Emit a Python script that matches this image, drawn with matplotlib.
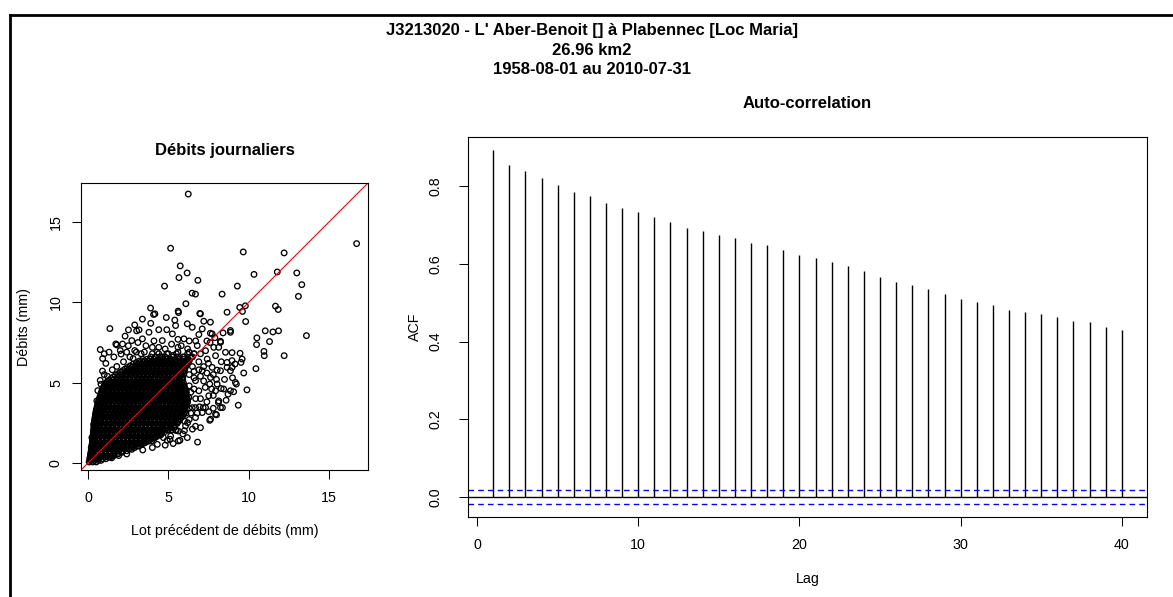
import matplotlib.pyplot as plt
from matplotlib.lines import Line2D

plt.rcParams['font.family'] = ['Liberation Sans', 'DejaVu Sans']

# --- titles ---
main_title = ["J3213020 - L' Aber-Benoit [] à Plabennec [Loc Maria]",
              "26.96 km2",
              "1958-08-01 au 2010-07-31"]

# --- scatter: lagged daily flows (mm) ---
# dense core, one row per debit level: (y, [x values])
core_rows = [
    (0.05, [0.06, 0.28, 0.5]),
    (0.15, [0.1, 0.2, 0.4, 0.62, 0.8]),
    (0.25, [0.1, 0.36, 0.62, 0.88, 1.1]),
    (0.35, [0.12, 0.24, 0.48, 0.74, 1.0, 1.25, 1.38]),
    (0.45, [0.14, 0.4, 0.66, 0.92, 1.18, 1.44, 1.6]),
    (0.55, [0.15, 0.28, 0.54, 0.8, 1.06, 1.32, 1.58, 1.85]),
    (0.65, [0.17, 0.3, 0.56, 0.82, 1.08, 1.34, 1.6, 1.86, 2.1]),
    (0.75, [0.19, 0.32, 0.58, 0.84, 1.1, 1.36, 1.62, 1.88, 2.14, 2.4]),
    (0.85, [0.2, 0.44, 0.7, 0.96, 1.22, 1.48, 1.74, 2.0, 2.26, 2.55]),
    (0.95, [0.21, 0.36, 0.62, 0.88, 1.14, 1.4, 1.66, 1.92, 2.18, 2.44, 2.7, 2.9]),
    (1.05, [0.23, 0.34, 0.6, 0.86, 1.12, 1.38, 1.64, 1.9, 2.16, 2.42, 2.68, 2.94, 3.1]),
    (1.15, [0.24, 0.4, 0.64, 0.9, 1.16, 1.42, 1.68, 1.94, 2.2, 2.46, 2.72, 2.98, 3.24, 3.35]),
    (1.25, [0.26, 0.48, 0.74, 1.0, 1.26, 1.52, 1.78, 2.04, 2.3, 2.56, 2.82, 3.08, 3.34, 3.5]),
    (1.35, [0.27, 0.4, 0.64, 0.9, 1.16, 1.42, 1.68, 1.94, 2.2, 2.46, 2.72, 2.98, 3.24, 3.5, 3.72]),
    (1.45, [0.28, 0.38, 0.62, 0.88, 1.14, 1.4, 1.66, 1.92, 2.18, 2.44, 2.7, 2.96, 3.22, 3.48, 3.74, 3.9]),
    (1.55, [0.29, 0.45, 0.68, 0.94, 1.2, 1.46, 1.72, 1.98, 2.24, 2.5, 2.76, 3.02, 3.28, 3.54, 3.8, 4.06, 4.15]),
    (1.65, [0.3, 0.52, 0.78, 1.04, 1.3, 1.56, 1.82, 2.08, 2.34, 2.6, 2.86, 3.12, 3.38, 3.64, 3.9, 4.16, 4.3]),
    (1.75, [0.31, 0.44, 0.66, 0.92, 1.18, 1.44, 1.7, 1.96, 2.22, 2.48, 2.74, 3.0, 3.26, 3.52, 3.78, 4.04, 4.3, 4.45]),
    (1.85, [0.32, 0.42, 0.66, 0.92, 1.18, 1.44, 1.7, 1.96, 2.22, 2.48, 2.74, 3.0, 3.26, 3.52, 3.78, 4.04, 4.3, 4.55]),
    (1.95, [0.33, 0.48, 0.7, 0.96, 1.22, 1.48, 1.74, 2.0, 2.26, 2.52, 2.78, 3.04, 3.3, 3.56, 3.82, 4.08, 4.34, 4.6, 4.78]),
    (2.05, [0.34, 0.56, 0.82, 1.08, 1.34, 1.6, 1.86, 2.12, 2.38, 2.64, 2.9, 3.16, 3.42, 3.68, 3.94, 4.2, 4.46, 4.72, 4.98, 5.2]),
    (2.15, [0.35, 0.5, 0.72, 0.98, 1.24, 1.5, 1.76, 2.02, 2.28, 2.54, 2.8, 3.06, 3.32, 3.58, 3.84, 4.1, 4.36, 4.62, 4.88, 5.1]),
    (2.25, [0.36, 0.46, 0.7, 0.96, 1.22, 1.48, 1.74, 2.0, 2.26, 2.52, 2.78, 3.04, 3.3, 3.56, 3.82, 4.08, 4.34, 4.6, 4.86, 5.12, 5.38]),
    (2.35, [0.37, 0.52, 0.74, 1.0, 1.26, 1.52, 1.78, 2.04, 2.3, 2.56, 2.82, 3.08, 3.34, 3.6, 3.86, 4.12, 4.38, 4.64, 4.9, 5.16, 5.4]),
    (2.45, [0.38, 0.6, 0.86, 1.12, 1.38, 1.64, 1.9, 2.16, 2.42, 2.68, 2.94, 3.2, 3.46, 3.72, 3.98, 4.24, 4.5, 4.76, 5.02, 5.28, 5.54]),
    (2.55, [0.39, 0.54, 0.76, 1.02, 1.28, 1.54, 1.8, 2.06, 2.32, 2.58, 2.84, 3.1, 3.36, 3.62, 3.88, 4.14, 4.4, 4.66, 4.92, 5.18, 5.44, 5.6]),
    (2.65, [0.4, 0.5, 0.74, 1.0, 1.26, 1.52, 1.78, 2.04, 2.3, 2.56, 2.82, 3.08, 3.34, 3.6, 3.86, 4.12, 4.38, 4.64, 4.9, 5.16, 5.42, 5.7]),
    (2.75, [0.42, 0.58, 0.8, 1.06, 1.32, 1.58, 1.84, 2.1, 2.36, 2.62, 2.88, 3.14, 3.4, 3.66, 3.92, 4.18, 4.44, 4.7, 4.96, 5.22, 5.48, 5.74]),
    (2.85, [0.43, 0.64, 0.9, 1.16, 1.42, 1.68, 1.94, 2.2, 2.46, 2.72, 2.98, 3.24, 3.5, 3.76, 4.02, 4.28, 4.54, 4.8, 5.06, 5.32, 5.58, 5.84]),
    (2.95, [0.45, 0.62, 0.84, 1.1, 1.36, 1.62, 1.88, 2.14, 2.4, 2.66, 2.92, 3.18, 3.44, 3.7, 3.96, 4.22, 4.48, 4.74, 5.0, 5.26, 5.52, 5.78, 5.9]),
    (3.05, [0.46, 0.56, 0.78, 1.04, 1.3, 1.56, 1.82, 2.08, 2.34, 2.6, 2.86, 3.12, 3.38, 3.64, 3.9, 4.16, 4.42, 4.68, 4.94, 5.2, 5.46, 5.72, 5.95]),
    (3.15, [0.48, 0.64, 0.86, 1.12, 1.38, 1.64, 1.9, 2.16, 2.42, 2.68, 2.94, 3.2, 3.46, 3.72, 3.98, 4.24, 4.5, 4.76, 5.02, 5.28, 5.54, 5.8, 6.0]),
    (3.25, [0.5, 0.7, 0.96, 1.22, 1.48, 1.74, 2.0, 2.26, 2.52, 2.78, 3.04, 3.3, 3.56, 3.82, 4.08, 4.34, 4.6, 4.86, 5.12, 5.38, 5.64, 5.9]),
    (3.35, [0.52, 0.7, 0.92, 1.18, 1.44, 1.7, 1.96, 2.22, 2.48, 2.74, 3.0, 3.26, 3.52, 3.78, 4.04, 4.3, 4.56, 4.82, 5.08, 5.34, 5.6, 5.86, 6.05]),
    (3.45, [0.55, 0.84, 1.1, 1.36, 1.62, 1.88, 2.14, 2.4, 2.66, 2.92, 3.18, 3.44, 3.7, 3.96, 4.22, 4.48, 4.74, 5.0, 5.26, 5.52, 5.78, 6.02]),
    (3.55, [0.57, 0.72, 0.96, 1.22, 1.48, 1.74, 2.0, 2.26, 2.52, 2.78, 3.04, 3.3, 3.56, 3.82, 4.08, 4.34, 4.6, 4.86, 5.12, 5.38, 5.64, 5.9, 6.1]),
    (3.65, [0.6, 0.74, 0.98, 1.24, 1.5, 1.76, 2.02, 2.28, 2.54, 2.8, 3.06, 3.32, 3.58, 3.84, 4.1, 4.36, 4.62, 4.88, 5.14, 5.4, 5.66, 5.92, 6.1]),
    (3.75, [0.62, 0.8, 1.04, 1.3, 1.56, 1.82, 2.08, 2.34, 2.6, 2.86, 3.12, 3.38, 3.64, 3.9, 4.16, 4.42, 4.68, 4.94, 5.2, 5.46, 5.72, 5.98, 6.15]),
    (3.85, [0.65, 0.88, 1.12, 1.38, 1.64, 1.9, 2.16, 2.42, 2.68, 2.94, 3.2, 3.46, 3.72, 3.98, 4.24, 4.5, 4.76, 5.02, 5.28, 5.54, 5.8, 6.06]),
    (3.95, [0.68, 0.86, 1.1, 1.36, 1.62, 1.88, 2.14, 2.4, 2.66, 2.92, 3.18, 3.44, 3.7, 3.96, 4.22, 4.48, 4.74, 5.0, 5.26, 5.52, 5.78, 6.04, 6.2]),
    (4.05, [0.72, 1.0, 1.26, 1.52, 1.78, 2.04, 2.3, 2.56, 2.82, 3.08, 3.34, 3.6, 3.86, 4.12, 4.38, 4.64, 4.9, 5.16, 5.42, 5.68, 5.94, 6.15]),
    (4.15, [0.75, 0.92, 1.18, 1.44, 1.7, 1.96, 2.22, 2.48, 2.74, 3.0, 3.26, 3.52, 3.78, 4.04, 4.3, 4.56, 4.82, 5.08, 5.34, 5.6, 5.86, 6.1]),
    (4.25, [0.78, 1.1, 1.36, 1.62, 1.88, 2.14, 2.4, 2.66, 2.92, 3.18, 3.44, 3.7, 3.96, 4.22, 4.48, 4.74, 5.0, 5.26, 5.52, 5.78, 6.04]),
    (4.35, [0.81, 0.98, 1.24, 1.5, 1.76, 2.02, 2.28, 2.54, 2.8, 3.06, 3.32, 3.58, 3.84, 4.1, 4.36, 4.62, 4.88, 5.14, 5.4, 5.66, 5.92, 6.12]),
    (4.45, [0.84, 1.2, 1.46, 1.72, 1.98, 2.24, 2.5, 2.76, 3.02, 3.28, 3.54, 3.8, 4.06, 4.32, 4.58, 4.84, 5.1, 5.36, 5.62, 5.88, 6.1]),
    (4.55, [0.88, 1.02, 1.3, 1.56, 1.82, 2.08, 2.34, 2.6, 2.86, 3.12, 3.38, 3.64, 3.9, 4.16, 4.42, 4.68, 4.94, 5.2, 5.46, 5.72, 5.98, 6.08]),
    (4.65, [0.92, 1.1, 1.32, 1.58, 1.84, 2.1, 2.36, 2.62, 2.88, 3.14, 3.4, 3.66, 3.92, 4.18, 4.44, 4.7, 4.96, 5.22, 5.48, 5.74, 6.0]),
    (4.75, [0.98, 1.2, 1.44, 1.7, 1.96, 2.22, 2.48, 2.74, 3.0, 3.26, 3.52, 3.78, 4.04, 4.3, 4.56, 4.82, 5.08, 5.34, 5.6, 5.86, 6.0]),
    (4.85, [1.02, 1.25, 1.48, 1.74, 2.0, 2.26, 2.52, 2.78, 3.04, 3.3, 3.56, 3.82, 4.08, 4.34, 4.6, 4.86, 5.12, 5.38, 5.64, 5.9]),
    (4.95, [1.1, 1.34, 1.6, 1.86, 2.12, 2.38, 2.64, 2.9, 3.16, 3.42, 3.68, 3.94, 4.2, 4.46, 4.72, 4.98, 5.24, 5.5, 5.76, 5.95]),
    (5.05, [1.18, 1.4, 1.64, 1.9, 2.16, 2.42, 2.68, 2.94, 3.2, 3.46, 3.72, 3.98, 4.24, 4.5, 4.76, 5.02, 5.28, 5.54, 5.8]),
    (5.15, [1.3, 1.54, 1.78, 2.04, 2.3, 2.56, 2.82, 3.08, 3.34, 3.6, 3.86, 4.12, 4.38, 4.64, 4.9, 5.16, 5.42, 5.68, 5.9]),
    (5.25, [1.42, 1.75, 2.02, 2.28, 2.54, 2.8, 3.06, 3.32, 3.58, 3.84, 4.1, 4.36, 4.62, 4.88, 5.14, 5.4, 5.66, 5.85]),
    (5.35, [1.56, 1.84, 2.1, 2.36, 2.62, 2.88, 3.14, 3.4, 3.66, 3.92, 4.18, 4.44, 4.7, 4.96, 5.22, 5.48, 5.74, 5.9]),
    (5.45, [1.7, 1.95, 2.18, 2.44, 2.7, 2.96, 3.22, 3.48, 3.74, 4.0, 4.26, 4.52, 4.78, 5.04, 5.3, 5.56, 5.8]),
    (5.55, [1.85, 2.1, 2.36, 2.62, 2.88, 3.14, 3.4, 3.66, 3.92, 4.18, 4.44, 4.7, 4.96, 5.22, 5.48, 5.74, 5.95]),
    (5.65, [2.0, 2.3, 2.56, 2.82, 3.08, 3.34, 3.6, 3.86, 4.12, 4.38, 4.64, 4.9, 5.16, 5.42, 5.68, 5.9]),
    (5.75, [2.15, 2.44, 2.7, 2.96, 3.22, 3.48, 3.74, 4.0, 4.26, 4.52, 4.78, 5.04, 5.3, 5.56, 5.82, 6.0]),
    (5.85, [2.3, 2.55, 2.78, 2.98, 3.24, 3.5, 3.76, 4.02, 4.28, 4.54, 4.8, 5.06, 5.32, 5.58, 5.84, 6.0]),
    (5.95, [2.45, 2.72, 2.98, 3.24, 3.5, 3.76, 4.02, 4.28, 4.54, 4.8, 5.06, 5.32, 5.58, 5.84, 6.05]),
    (6.05, [2.62, 2.95, 3.2, 3.46, 3.72, 3.98, 4.24, 4.5, 4.76, 5.02, 5.28, 5.54, 5.8, 6.08]),
    (6.15, [2.8, 3.08, 3.34, 3.6, 3.86, 4.12, 4.38, 4.64, 4.9, 5.16, 5.42, 5.68, 5.94, 6.15]),
    (6.25, [3.0, 3.22, 3.44, 3.66, 3.92, 4.18, 4.44, 4.7, 4.96, 5.22, 5.48, 5.74, 6.0, 6.2]),
    (6.35, [3.2, 3.5, 3.76, 4.02, 4.28, 4.54, 4.8, 5.06, 5.32, 5.58, 5.84, 6.1, 6.3]),
    (6.45, [3.4, 3.65, 3.86, 4.12, 4.38, 4.64, 4.9, 5.16, 5.42, 5.68, 5.94, 6.25]),
    (6.6, [3.9, 4.2, 4.5, 4.8, 5.3, 5.6, 6.0, 6.4]),
    (6.8, [4.4, 4.9, 5.5, 6.2, 6.6]),
]

# scattered points around the core and isolated high flows: (x, y)
spread_pts = [
    (6.24, 16.76), (16.74, 13.67), (5.14, 13.38), (9.67, 13.15), (12.22, 13.09),
    (5.74, 12.28), (6.17, 11.84), (5.66, 11.55), (6.84, 11.38), (4.76, 11.02),
    (10.34, 11.75), (11.79, 11.9), (13.01, 11.84), (13.32, 11.11), (13.11, 10.38),
    (9.30, 11.02), (6.48, 10.58), (6.69, 10.52), (8.35, 10.52), (6.09, 9.92),
    (9.80, 9.79), (9.45, 9.69), (9.62, 9.44), (8.66, 9.39), (11.68, 9.77),
    (11.85, 9.56), (9.82, 8.81), (3.89, 9.65), (4.08, 9.25), (5.61, 9.46),
    (5.63, 9.37), (6.96, 9.31), (4.87, 9.06), (3.38, 8.96), (1.35, 8.37),
    (2.51, 8.29), (3.02, 8.23), (8.87, 8.25), (11.04, 8.23), (11.52, 8.16),
    (11.87, 8.23), (10.52, 7.79), (11.31, 7.56), (10.50, 7.37), (13.61, 7.93),
    (10.96, 6.95), (10.98, 6.68), (12.22, 6.68), (10.46, 5.87), (9.90, 4.55),
    (9.36, 3.59), (0.75, 7.06), (0.89, 5.72), (0.75, 5.14), (1.78, 7.35),
    (2.05, 6.78), (1.78, 6.01), (6.82, 1.29), (5.72, 1.40), (7.00, 2.19),
    (6.69, 2.28), (5.49, 2.03), (8.00, 2.99), (7.58, 2.65), (8.72, 4.28),
    (9.07, 4.43), (9.24, 4.91), (8.97, 6.87), (9.47, 6.83), (9.53, 6.26),
    (9.16, 6.16), (8.87, 5.74), (8.66, 5.95), (8.04, 5.78), (7.62, 8.08),
    (7.21, 8.83), (7.62, 8.77), (8.41, 8.10), (8.25, 7.58), (7.83, 7.20),
    (8.04, 4.91), (8.29, 4.63), (7.58, 4.91), (8.37, 3.44), (8.12, 3.76),
    (7.52, 3.19), (7.17, 3.44), (6.94, 3.49), (6.69, 3.44),
    (4.16, 9.29), (7.0, 9.29), (3.17, 8.29), (3.79, 8.14), (5.45, 8.56),
    (6.18, 8.67), (1.72, 7.41), (1.41, 5.01), (2.14, 7.41), (2.72, 7.62),
    (3.38, 7.73), (4.0, 7.2), (4.62, 7.62), (5.25, 8.04), (5.97, 7.73),
    (6.49, 8.45), (7.11, 8.35), (7.73, 8.04), (8.25, 7.51), (8.87, 8.14),
    (8.56, 6.89), (8.97, 6.37), (9.6, 6.47), (9.18, 5.01), (8.87, 4.49),
    (8.45, 4.6), (7.94, 4.49), (7.52, 4.18), (8.14, 3.86), (7.32, 3.44),
    (6.49, 3.44), (7.63, 2.72), (6.07, 2.3), (5.45, 2.03), (5.14, 1.67),
    (4.52, 1.73), (4.31, 1.15), (3.79, 1.36), (3.17, 1.05), (7.11, 5.74),
    (7.73, 5.95), (7.63, 5.32), (8.25, 5.74), (7.94, 6.68), (7.32, 6.99),
    (6.8, 7.31), (7.42, 6.47), (8.14, 7.2), (8.66, 6.26), (8.97, 5.95),
    (6.69, 5.12), (6.9, 4.49), (6.28, 4.07), (7.11, 3.13), (6.69, 2.82),
    (7.94, 3.03), (8.25, 3.44), (4.93, 1.4), (6.18, 1.57),
    (2.09, 0.73), (2.72, 0.84), (3.54, 1.25), (3.96, 1.36), (4.69, 1.57),
    (5.1, 1.47), (5.62, 1.36), (4.58, 2.09), (5.2, 2.4), (5.62, 1.98),
    (1.47, 0.31), (0.34, 2.4), (0.54, 3.86), (0.75, 4.18), (0.96, 4.7),
    (1.16, 4.91), (0.23, 1.57), (0.19, 0.94),
    (2.4, 6.9), (2.9, 7.0), (3.3, 6.8), (3.6, 7.3), (4.3, 6.9), (4.8, 7.1),
    (5.2, 7.4), (5.6, 6.9), (6.2, 7.1), (6.6, 6.8), (3.1, 7.5), (2.6, 6.6),
    (4.1, 7.6), (5.0, 6.8), (5.8, 7.3), (6.4, 6.6), (1.2, 5.4), (1.5, 5.8),
    (2.2, 6.3), (2.8, 6.5), (1.1, 6.2), (1.0, 5.5),
    (6.3, 5.5), (6.5, 6.0), (6.9, 6.3), (6.6, 4.6), (6.2, 3.8), (6.4, 3.1),
    (7.3, 4.7), (7.0, 5.4), (6.3, 2.7), (6.0, 2.0), (6.5, 6.6), (7.2, 6.0),
    (6.1, 6.2), (6.3, 6.9), (6.7, 7.6), (6.9, 5.8), (7.0, 6.8), (7.4, 5.6),
    (7.5, 6.2), (7.8, 5.5), (7.6, 7.5), (6.6, 5.3), (6.4, 4.4), (6.7, 4.0),
    (7.0, 4.0), (7.4, 3.8), (7.8, 4.2), (6.3, 3.4), (6.8, 3.1), (6.2, 2.5),
    (6.5, 2.1), (5.9, 1.8), (5.3, 1.2), (4.8, 1.1), (4.0, 0.95), (3.4, 0.8),
    (2.4, 0.55), (1.9, 0.45), (6.0, 2.6), (6.1, 3.1), (6.3, 4.8), (6.6, 5.7),
    (7.2, 5.1), (7.7, 4.6), (8.5, 5.2), (8.3, 6.3), (7.9, 7.8), (7.4, 7.6),
    (6.9, 8.0), (6.3, 7.6), (5.6, 7.7), (5.4, 8.9), (4.4, 8.3), (4.9, 8.3),
    (3.9, 8.7), (2.9, 8.6), (2.3, 7.9), (2.0, 7.0), (1.6, 6.6), (1.3, 6.9),
    (3.5, 6.9), (4.0, 6.8), (4.6, 6.6), (5.3, 6.7), (5.9, 6.6), (3.0, 6.9),
    (2.5, 7.3), (4.4, 7.2), (5.6, 7.2), (1.0, 6.8), (0.9, 6.5), (0.8, 4.9),
    (0.6, 4.5), (7.8, 3.4), (8.6, 3.9), (8.0, 5.2), (9.0, 5.3), (9.7, 5.6),
]

# --- autocorrelation of daily flows ---
lags = list(range(1, 41))
acf_vals = [0.892, 0.853, 0.838, 0.820, 0.802, 0.784, 0.774, 0.756, 0.744, 0.732,
            0.719, 0.707, 0.693, 0.683, 0.675, 0.666, 0.653, 0.647, 0.635, 0.623,
            0.614, 0.605, 0.593, 0.581, 0.565, 0.553, 0.545, 0.535, 0.523, 0.510,
            0.502, 0.493, 0.480, 0.477, 0.472, 0.462, 0.454, 0.450, 0.438, 0.429]
conf_lim = 0.018

prev_q = [x for y, xs in core_rows for x in xs] + [p[0] for p in spread_pts]
next_q = [y for y, xs in core_rows for x in xs] + [p[1] for p in spread_pts]

fig = plt.figure(figsize=(11.73, 5.97), dpi=100)

for i, line in enumerate(main_title):
    fig.text(0.5043, 1 - (31 + i * 19.5) / 597, line, ha='center', va='center',
             fontsize=12, fontweight='bold')

# page frame
fig.add_artist(Line2D([10 / 1173, 1], [1 - 15 / 597] * 2, transform=fig.transFigure,
                      color='black', lw=2))
fig.add_artist(Line2D([10 / 1173] * 2, [0, 1 - 15 / 597], transform=fig.transFigure,
                      color='black', lw=2))

# left: scatter of consecutive daily flows
ax1 = fig.add_axes([81 / 1173, 1 - 470 / 597, 287 / 1173, 287 / 597])
ax1.scatter(prev_q, next_q, s=16, facecolors='none', edgecolors='black', linewidths=0.95)
ax1.axline((0, 0), (1, 1), color='red', lw=0.8)
ax1.set_xlim(-0.45, 17.45)
ax1.set_ylim(-0.45, 17.45)
ax1.set_xticks([0, 5, 10, 15])
ax1.set_yticks([0, 5, 10, 15])
ax1.set_yticklabels(['0', '5', '10', '15'], rotation=90, va='center')
ax1.tick_params(length=6.5, width=0.75, pad=8.5, labelsize=10.3)
ax1.tick_params(axis='y', pad=6.5)
ax1.set_title('Débits journaliers', fontsize=12, fontweight='bold', pad=20)
ax1.set_xlabel('Lot précédent de débits (mm)', fontsize=10.3)
ax1.set_ylabel('Débits (mm)', fontsize=10.3)
ax1.xaxis.set_label_coords(0.5, -0.188)
ax1.yaxis.set_label_coords(-0.175, 0.5)
for s in ax1.spines.values():
    s.set_linewidth(0.8)

# right: autocorrelation function
ax2 = fig.add_axes([468 / 1173, 1 - 517 / 597, 679 / 1173, 380 / 597])
ax2.vlines(lags, 0, acf_vals, color='black', lw=1)
ax2.axhline(0, color='black', lw=1)
ax2.axhline(conf_lim, color='blue', lw=1, ls=(0, (4, 3)))
ax2.axhline(-conf_lim, color='blue', lw=1, ls=(0, (4, 3)))
ax2.set_xlim(-0.56, 41.56)
ax2.set_ylim(-0.0513, 0.926)
ax2.set_xticks([0, 10, 20, 30, 40])
ax2.set_yticks([0.0, 0.2, 0.4, 0.6, 0.8])
ax2.set_yticklabels(['0.0', '0.2', '0.4', '0.6', '0.8'], rotation=90, va='center')
ax2.tick_params(length=6.5, width=0.75, pad=8.5, labelsize=10.3)
ax2.tick_params(axis='y', pad=12)
ax2.set_title('Auto-correlation', fontsize=12, fontweight='bold', pad=21)
ax2.set_xlabel('Lag', fontsize=10.3)
ax2.set_ylabel('ACF', fontsize=10.3)
ax2.xaxis.set_label_coords(0.5, -0.145)
ax2.yaxis.set_label_coords(-0.068, 0.5)
for s in ax2.spines.values():
    s.set_linewidth(0.8)

fig.savefig('out.png', dpi=100)
